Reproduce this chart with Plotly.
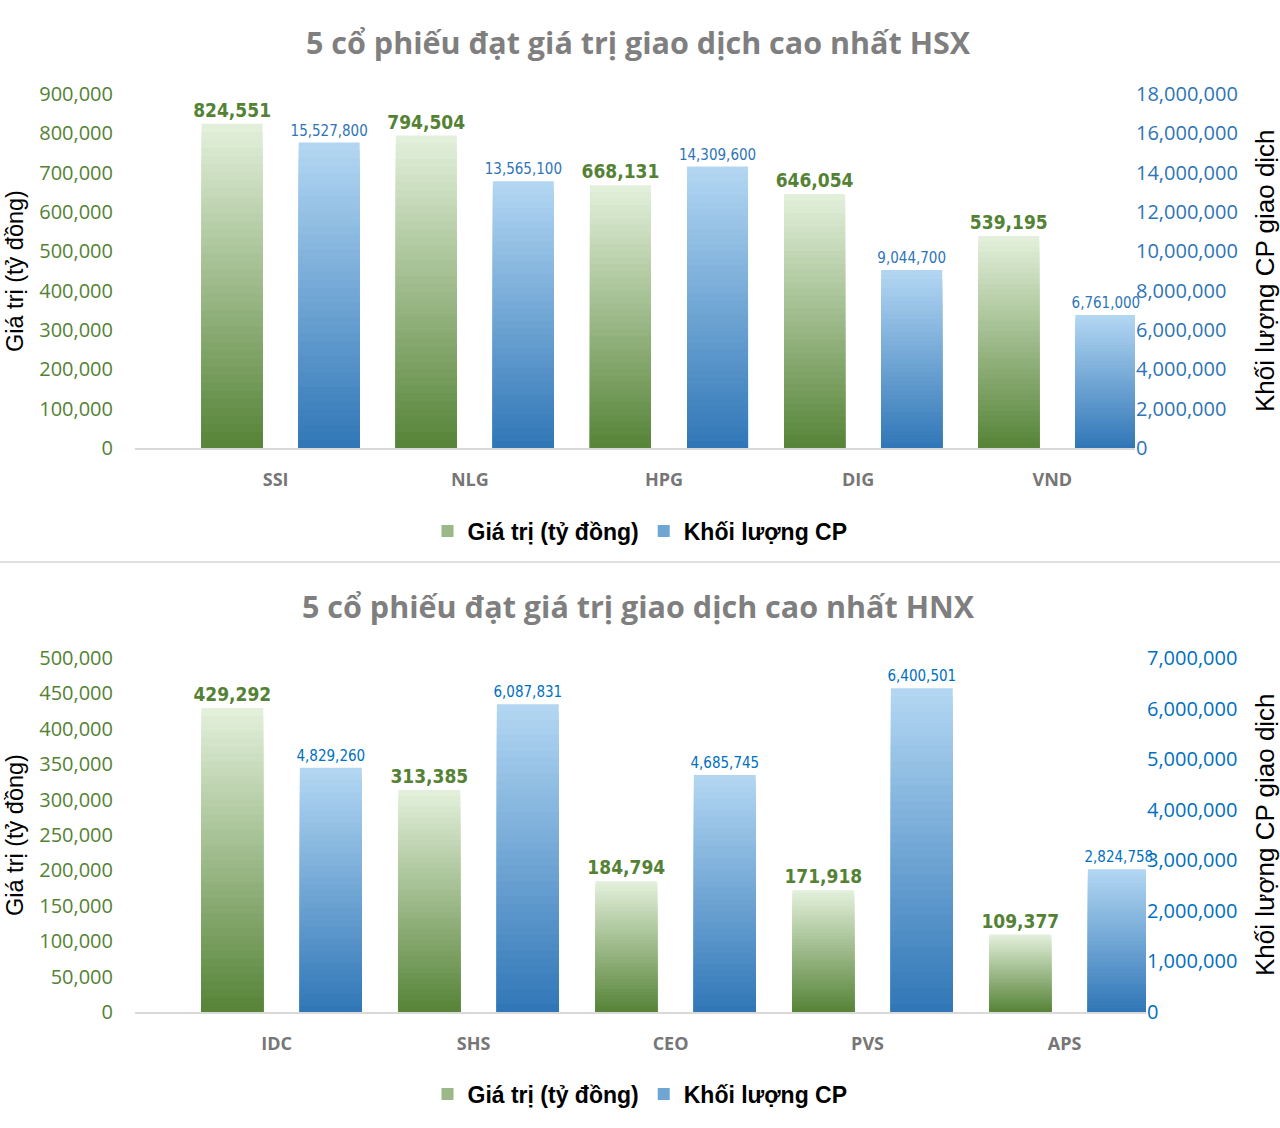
import plotly.graph_objects as go

# ---------------- data ----------------
hsx_codes = ["SSI", "NLG", "HPG", "DIG", "VND"]
hsx_value = [824551, 794504, 668131, 646054, 539195]          # Giá trị (tỷ đồng)
hsx_volume = [15527800, 13565100, 14309600, 9044700, 6761000]  # Khối lượng CP

hnx_codes = ["IDC", "SHS", "CEO", "PVS", "APS"]
hnx_value = [429292, 313385, 184794, 171918, 109377]
hnx_volume = [4829260, 6087831, 4685745, 6400501, 2824758]

title_hsx = "5 cổ phiếu đạt giá trị giao dịch cao nhất HSX"
title_hnx = "5 cổ phiếu đạt giá trị giao dịch cao nhất HNX"
name_value = "Giá trị (tỷ đồng)"
name_volume = "Khối lượng CP"
ytitle_left = "Giá trị (tỷ đồng)"
ytitle_right = "Khối lượng CP giao dịch"

# ---------------- style ----------------
W, H = 1280, 1128
GREEN_TOP, GREEN_BOT = (226, 239, 218), (84, 130, 53)
BLUE_TOP, BLUE_BOT = (178, 214, 242), (46, 117, 182)
N_STEPS = 40
BAR_W = 0.314
OFF_G, OFF_B = -0.407, 0.093
NARROW = "DejaVu Sans Condensed, Liberation Sans Narrow, Liberation Sans, sans-serif"
SANS = "Open Sans, Lato, sans-serif"
ARIAL = "Liberation Sans, Arial, sans-serif"


def px_x(x):
    return x / W


def px_y(y):
    return 1 - y / H


def mix(c1, c2, t):
    return "rgb(%d,%d,%d)" % tuple(round(a + (b - a) * t) for a, b in zip(c1, c2))


fig = go.Figure()


def add_gradient_bars(cats, vals, xa, ya, top, bot, offset, legend, name,
                      tfont, show_legend):
    for k in range(N_STEPS):
        frac = (N_STEPS - k) / N_STEPS
        col = mix(bot, top, frac)
        first = k == 0
        fig.add_trace(go.Bar(
            x=cats, y=[v * frac for v in vals],
            xaxis=xa, yaxis=ya,
            width=BAR_W, offset=offset,
            marker=dict(color=col, line=dict(width=0)),
            name=name, legend=legend,
            showlegend=show_legend and k == N_STEPS // 2,
            text=[f"{v:,}" for v in vals] if first else None,
            textposition="outside" if first else "none",
            textfont=tfont, constraintext="none", cliponaxis=False,
            hoverinfo="skip" if not first else None,
        ))


green_font = dict(family=NARROW, size=19, color="#548235", weight="bold")
blue_font_top = dict(family=NARROW, size=15, color="#2E75B6")
blue_font_bot = dict(family=NARROW, size=15, color="#0070C0")

add_gradient_bars(hsx_codes, hsx_value, "x", "y", GREEN_TOP, GREEN_BOT, OFF_G,
                  "legend", name_value, green_font, True)
add_gradient_bars(hsx_codes, hsx_volume, "x", "y2", BLUE_TOP, BLUE_BOT, OFF_B,
                  "legend", name_volume, blue_font_top, True)
add_gradient_bars(hnx_codes, hnx_value, "x2", "y3", GREEN_TOP, GREEN_BOT, OFF_G,
                  "legend2", name_value, green_font, True)
add_gradient_bars(hnx_codes, hnx_volume, "x2", "y4", BLUE_TOP, BLUE_BOT, OFF_B,
                  "legend2", name_volume, blue_font_bot, True)

xcommon = dict(type="category", showgrid=False, zeroline=False, showline=True,
               linecolor="#D9D9D9", linewidth=2, ticks="",
               tickfont=dict(family=SANS, size=18, color="#767676", weight="bold"),
               ticklabelstandoff=14, ticklabelshift=-5, automargin=False)
ycommon = dict(showgrid=False, zeroline=False, showline=False, ticks="",
               tickformat=",d", rangemode="tozero", automargin=False)

legfont = dict(family=ARIAL, size=23, color="black", weight="bold")

fig.update_layout(
    width=W, height=H,
    margin=dict(l=0, r=0, t=0, b=0, autoexpand=False),
    paper_bgcolor="white", plot_bgcolor="white",
    barmode="overlay",
    xaxis=dict(domain=[px_x(135), px_x(1135)], anchor="y",
               range=[-0.75, 4.40], **xcommon),
    yaxis=dict(domain=[px_y(448), px_y(94)], anchor="x", range=[0, 900000],
               dtick=100000, tickfont=dict(family=SANS, size=20, color="#548235"),
               ticklabelstandoff=21, **ycommon),
    yaxis2=dict(overlaying="y", side="right", anchor="x", range=[0, 18000000],
                dtick=2000000, tickfont=dict(family=SANS, size=20, color="#2E75B6"),
                ticklabelstandoff=0, **ycommon),
    xaxis2=dict(domain=[px_x(135), px_x(1146)], anchor="y3",
                range=[-0.744, 4.388], **xcommon),
    yaxis3=dict(domain=[px_y(1012), px_y(658)], anchor="x2", range=[0, 500000],
                dtick=50000, tickfont=dict(family=SANS, size=20, color="#548235"),
                ticklabelstandoff=21, **ycommon),
    yaxis4=dict(overlaying="y3", side="right", anchor="x2", range=[0, 7000000],
                dtick=1000000, tickfont=dict(family=SANS, size=20, color="#0070C0"),
                ticklabelstandoff=0, **ycommon),
    legend=dict(orientation="h", x=0.5, xanchor="center", y=px_y(531),
                yanchor="middle", font=legfont,
                bgcolor="rgba(0,0,0,0)", itemwidth=30),
    legend2=dict(orientation="h", x=0.5, xanchor="center", y=px_y(1094),
                 yanchor="middle", font=legfont,
                 bgcolor="rgba(0,0,0,0)", itemwidth=30),
    showlegend=True,
)

for text, yc in ((title_hsx, 42), (title_hnx, 606)):
    fig.add_annotation(xref="paper", yref="paper", x=px_x(638), y=px_y(yc), text=text,
                       showarrow=False, xanchor="center", yanchor="middle",
                       font=dict(family=SANS, size=30.5, color="#7F7F7F", weight="bold"))

for yc in (271, 835):
    fig.add_annotation(xref="paper", yref="paper", x=px_x(15), y=px_y(yc),
                       text=ytitle_left, textangle=-90, showarrow=False,
                       xanchor="center", yanchor="middle",
                       font=dict(family=ARIAL, size=23.5, color="black"))
    fig.add_annotation(xref="paper", yref="paper", x=px_x(1265), y=px_y(yc),
                       text=ytitle_right, textangle=-90, showarrow=False,
                       xanchor="center", yanchor="middle",
                       font=dict(family=ARIAL, size=26, color="black"))

# separator between the two charts
fig.add_shape(type="line", xref="paper", yref="paper", x0=0, x1=1,
              y0=px_y(562), y1=px_y(562), line=dict(color="#E0E0E0", width=2))

fig.write_html("out.html",
               config={"displayModeBar": False},
               post_script="document.body.style.margin='0';"
                           "document.body.style.overflow='hidden';")
